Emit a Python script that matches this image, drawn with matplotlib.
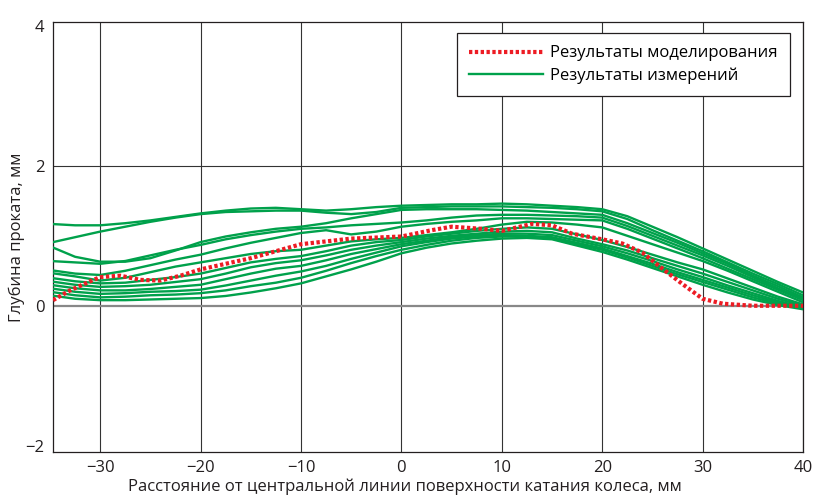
#!/usr/bin/env python
# Rail wheel wear profile: simulation vs. measurements
import numpy as np
import matplotlib
matplotlib.use("Agg")
import matplotlib.pyplot as plt

plt.rcParams["font.family"] = ["Open Sans", "DejaVu Sans"]
plt.rcParams["axes.unicode_minus"] = True

# x positions where the measured curves were read [mm]
xMeas = [-35, -32.5, -30, -27.5, -25, -22.5, -20, -17.5, -15, -12.5, -10, -7.5, -5, -2.5,
         0, 2.5, 5, 7.5, 10, 12.5, 15, 17.5, 20, 22.5, 25, 27.5, 30, 32.5, 35, 37.5, 40]

# measured wear depth curves [mm]
meas01 = [1.17, 1.15, 1.15, 1.18, 1.22, 1.27, 1.32, 1.36, 1.39, 1.40, 1.38, 1.36, 1.38, 1.41, 1.43, 1.44,
          1.45, 1.45, 1.46, 1.45, 1.43, 1.41, 1.38, 1.28, 1.13, 0.98, 0.82, 0.66, 0.50, 0.34, 0.19]
meas02 = [0.90, 0.98, 1.06, 1.13, 1.20, 1.26, 1.31, 1.34, 1.35, 1.36, 1.36, 1.33, 1.31, 1.34, 1.40, 1.41,
          1.42, 1.42, 1.42, 1.41, 1.40, 1.38, 1.35, 1.24, 1.08, 0.93, 0.78, 0.62, 0.46, 0.31, 0.15]
meas03 = [0.85, 0.70, 0.63, 0.63, 0.68, 0.79, 0.91, 0.99, 1.05, 1.10, 1.13, 1.18, 1.25, 1.31, 1.37, 1.38,
          1.38, 1.38, 1.37, 1.36, 1.34, 1.32, 1.30, 1.18, 1.04, 0.90, 0.75, 0.60, 0.43, 0.28, 0.12]
meas04 = [0.64, 0.62, 0.60, 0.64, 0.72, 0.80, 0.87, 0.95, 1.01, 1.06, 1.10, 1.12, 1.15, 1.17, 1.19, 1.22,
          1.26, 1.29, 1.30, 1.30, 1.29, 1.28, 1.26, 1.14, 1.00, 0.86, 0.72, 0.57, 0.41, 0.25, 0.10]
meas05 = [0.51, 0.46, 0.44, 0.50, 0.58, 0.66, 0.73, 0.82, 0.90, 0.97, 1.04, 1.08, 1.02, 1.06, 1.13, 1.17,
          1.20, 1.22, 1.25, 1.25, 1.24, 1.23, 1.22, 1.10, 0.96, 0.82, 0.68, 0.53, 0.38, 0.23, 0.08]
meas06 = [0.47, 0.42, 0.36, 0.40, 0.48, 0.56, 0.62, 0.68, 0.74, 0.78, 0.80, 0.86, 0.92, 0.95, 0.97, 1.01,
          1.05, 1.10, 1.16, 1.20, 1.19, 1.16, 1.12, 1.00, 0.88, 0.76, 0.64, 0.50, 0.35, 0.20, 0.05]
meas07 = [0.40, 0.35, 0.32, 0.33, 0.37, 0.41, 0.46, 0.54, 0.62, 0.67, 0.71, 0.78, 0.86, 0.91, 0.94, 0.99,
          1.03, 1.07, 1.10, 1.12, 1.10, 1.02, 0.94, 0.84, 0.73, 0.62, 0.52, 0.39, 0.26, 0.13, 0.02]
meas08 = [0.35, 0.30, 0.27, 0.28, 0.30, 0.34, 0.38, 0.46, 0.55, 0.61, 0.65, 0.72, 0.80, 0.86, 0.91, 0.96,
          1.00, 1.03, 1.06, 1.07, 1.05, 0.96, 0.88, 0.79, 0.68, 0.57, 0.46, 0.34, 0.22, 0.10, 0.00]
meas09 = [0.30, 0.25, 0.22, 0.22, 0.24, 0.27, 0.30, 0.38, 0.46, 0.53, 0.57, 0.65, 0.74, 0.81, 0.88, 0.93,
          0.98, 1.01, 1.03, 1.03, 1.01, 0.93, 0.85, 0.75, 0.64, 0.52, 0.41, 0.29, 0.18, 0.07, -0.02]
meas10 = [0.25, 0.20, 0.17, 0.18, 0.20, 0.21, 0.23, 0.29, 0.36, 0.43, 0.49, 0.57, 0.67, 0.76, 0.85, 0.91,
          0.96, 0.99, 1.01, 1.00, 0.98, 0.90, 0.82, 0.71, 0.60, 0.48, 0.37, 0.26, 0.15, 0.05, -0.03]
meas11 = [0.20, 0.15, 0.12, 0.13, 0.15, 0.16, 0.18, 0.22, 0.28, 0.33, 0.40, 0.50, 0.61, 0.71, 0.80, 0.87,
          0.93, 0.97, 0.99, 0.99, 0.97, 0.88, 0.80, 0.69, 0.57, 0.45, 0.34, 0.23, 0.12, 0.03, -0.04]
meas12 = [0.15, 0.10, 0.08, 0.08, 0.09, 0.10, 0.11, 0.14, 0.19, 0.25, 0.32, 0.42, 0.52, 0.63, 0.75, 0.83,
          0.89, 0.93, 0.96, 0.97, 0.95, 0.86, 0.77, 0.66, 0.54, 0.42, 0.30, 0.19, 0.09, 0.01, -0.05]
allMeas = [meas01, meas02, meas03, meas04, meas05, meas06,
           meas07, meas08, meas09, meas10, meas11, meas12]

# simulated profile
xSim = [-34.7, -33, -31, -30, -28, -26, -24, -22, -20, -15, -10, -5, 0, 3, 5, 8, 10,
        13, 15, 17, 20, 22, 24, 26, 28, 30, 32, 35, 40]
ySim = [0.08, 0.22, 0.35, 0.41, 0.43, 0.37, 0.36, 0.43, 0.52, 0.68, 0.88, 0.96, 0.99, 1.08,
        1.13, 1.10, 1.07, 1.17, 1.15, 1.03, 0.95, 0.89, 0.76, 0.53, 0.31, 0.10, 0.03, 0.0, 0.0]

xTicks = [-30, -20, -10, 0, 10, 20, 30, 40]
yTicks = [-2, 0, 2, 4]

labelSim = "Результаты моделирования"
labelMeas = "Результаты измерений"
xLabel = "Расстояние от центральной линии поверхности катания колеса, мм"
yLabel = "Глубина проката, мм"

green = "#00a14b"
red = "#ed1c24"
ink = "#231f20"

fig = plt.figure(figsize=(8.13, 4.97), dpi=100)
ax = fig.add_axes([53 / 813, 1 - 452 / 497, 750 / 813, (452 - 21.7) / 497])

for i, ys in enumerate(allMeas):
    ax.plot(xMeas, ys, color=green, lw=1.7, solid_joinstyle="round",
            label=labelMeas if i == 0 else None, zorder=3)

simLine, = ax.plot(xSim, ySim, color=red, lw=3.0, label=labelSim, zorder=4)
simLine.set_dashes((0.8, 0.6))

ax.set_xlim(-34.7, 40)
ax.set_ylim(-2.09, 4.06)
ax.set_xticks(xTicks)
ax.set_yticks(yTicks)
ax.tick_params(length=0, labelsize=12, pad=6, colors=ink)

for x in xTicks:
    ax.axvline(x, color="#333333", lw=0.8, zorder=1)
ax.axhline(2, color="#333333", lw=0.8, zorder=1)
ax.axhline(0, color="#888888", lw=1.6, zorder=1)

for sp in ax.spines.values():
    sp.set_color(ink)
    sp.set_linewidth(0.9)

ax.set_xlabel(xLabel, fontsize=12, color=ink)
ax.xaxis.set_label_coords(0.469, -0.061)
ax.set_ylabel(yLabel, fontsize=12, color=ink)
ax.yaxis.set_label_coords(-0.037, 0.5)

handles, labels = ax.get_legend_handles_labels()
order = [labels.index(labelSim), labels.index(labelMeas)]
leg = ax.legend([handles[i] for i in order], [labels[i] for i in order],
                loc="upper right", bbox_to_anchor=(0.983, 0.974), borderaxespad=0,
                fontsize=12, frameon=True, fancybox=False, edgecolor=ink, framealpha=1,
                handlelength=4.4, handletextpad=0.45, borderpad=0.75, labelspacing=0.35)
leg.get_frame().set_linewidth(0.9)

fig.savefig("out.png", dpi=100)
